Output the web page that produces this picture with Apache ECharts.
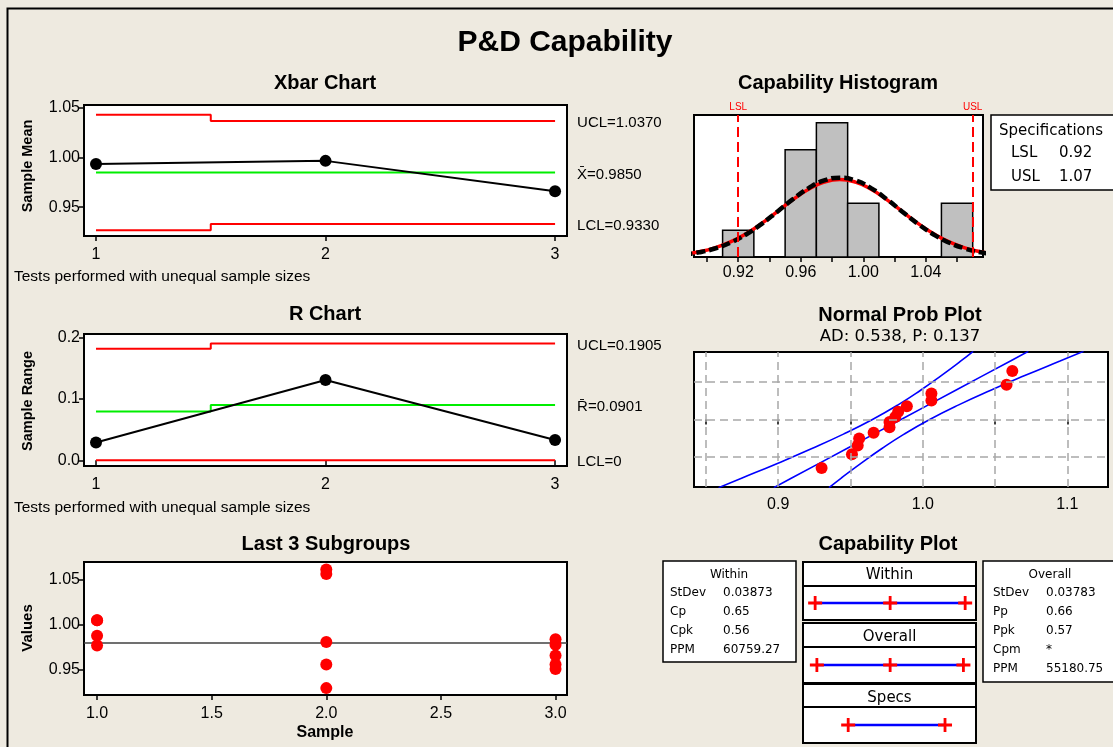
<!DOCTYPE html>
<html><head><meta charset="utf-8">
<script src="https://cdn.jsdelivr.net/npm/echarts@6/dist/echarts.min.js"></script>
<style>html,body{margin:0;padding:0;background:#EEEAE0;} #c{width:1113px;height:747px;}</style>
</head><body><div id="c"></div>
<script>
// ---------- data ----------
const subgroups = [1, 2, 3];
const subgroupMeans = [0.9935, 0.9967, 0.9660];
const xbarUCL = [1.0431, 1.0370, 1.0370];
const xbarCenter = [0.9850, 0.9850, 0.9850];
const xbarLCL = [0.9269, 0.9330, 0.9330];
const xbarLimitLabels = ['UCL=1.0370', 'X\u0304=0.9850', 'LCL=0.9330'];
const subgroupRanges = [0.029, 0.131, 0.033];
const rUCL = [0.1819, 0.1905, 0.1905];
const rCenter = [0.0797, 0.0901, 0.0901];
const rLCL = [0, 0, 0];
const rLimitLabels = ['UCL=0.1905', 'R\u0304=0.0901', 'LCL=0'];
const sample1Values = [1.005, 1.005, 0.988, 0.977];
const sample2Values = [1.061, 1.056, 0.981, 0.956, 0.930];
const sample3Values = [0.984, 0.978, 0.966, 0.956, 0.951];
const xbarTicks = [1, 2, 3];
const xbarYTicks = [0.95, 1.00, 1.05];
const rYTicks = [0.0, 0.1, 0.2];
const subXTicks = [1.0, 1.5, 2.0, 2.5, 3.0];
const subYTicks = [0.95, 1.00, 1.05];

const histBinStart = [0.91, 0.95, 0.97, 0.99, 1.05];
const histBinEnd = [0.93, 0.97, 0.99, 1.01, 1.07];
const histCounts = [1, 4, 5, 2, 2];
const histTicks = [0.90, 0.92, 0.94, 0.96, 0.98, 1.00, 1.02, 1.04, 1.06];
const histLabels = [0.92, 0.96, 1.00, 1.04];
const curveX = [0.885,0.895,0.905,0.915,0.925,0.935,0.945,0.955,0.965,0.975,0.985,0.995,1.005,1.015,1.025,1.035,1.045,1.055,1.065,1.075,1.085];
const withinCurve = [0.103,0.194,0.341,0.563,0.869,1.253,1.692,2.137,2.524,2.789,2.884,2.789,2.524,2.137,1.692,1.253,0.869,0.563,0.341,0.194,0.103];
const overallCurve = [0.090,0.174,0.316,0.533,0.840,1.233,1.689,2.156,2.568,2.852,2.953,2.852,2.568,2.156,1.689,1.233,0.840,0.533,0.316,0.174,0.090];
const specLimits = [0.92, 1.07];
const specNames = ['LSL', 'USL'];

const probValues = [0.930,0.951,0.955,0.956,0.966,0.977,0.977,0.981,0.983,0.989,1.006,1.006,1.058,1.062];
const probScores = [-1.658,-1.184,-0.887,-0.653,-0.450,-0.264,-0.087,0.087,0.264,0.450,0.653,0.887,1.184,1.658];
const bandScores = [-2.33,-2.0,-1.5,-1.0,-0.5,0,0.5,1.0,1.5,2.0,2.33];
const bandFit   = [0.8969,0.9093,0.9283,0.9472,0.9661,0.9850,1.0039,1.0228,1.0417,1.0607,1.0731];
const bandUpper = [0.8587,0.8750,0.8994,0.9229,0.9451,0.9652,0.9829,0.9985,1.0128,1.0264,1.0349];
const bandLower = [0.9351,0.9436,0.9572,0.9715,0.9871,1.0048,1.0249,1.0471,1.0706,1.0950,1.1113];
const probXTicks = [0.85, 0.90, 0.95, 1.00, 1.05, 1.10];
const probXLabels = [0.9, 1.0, 1.1];
const probGridScores = [-1.2816, 0, 1.2816];

const withinInterval = [0.8688, 0.985, 1.1012];
const overallInterval = [0.8715, 0.985, 1.0985];
const specInterval = [0.92, 1.07];
const withinStats = [['StDev','0.03873'],['Cp','0.65'],['Cpk','0.56'],['PPM','60759.27']];
const overallStats = [['StDev','0.03783'],['Pp','0.66'],['Ppk','0.57'],['Cpm','*'],['PPM','55180.75']];
const specStats = [['LSL','0.92'],['USL','1.07']];

// ---------- helpers ----------
const LF = '"Liberation Sans", Arial, sans-serif';
const DF = '"DejaVu Sans", Verdana, sans-serif';
const pairs = (xs, ys) => xs.map((x, i) => [x, ys[i]]);
const gridBase = {show: true, backgroundColor: '#fff', borderColor: '#000', borderWidth: 2, containLabel: false};
function valAxis(gi, min, max, ticks, labels, fmt, margin) {
  return {
    type: 'value', gridIndex: gi, min, max, scale: true,
    axisLine: {show: false},
    axisTick: {show: !!ticks, length: 5, customValues: ticks || [], lineStyle: {color: '#000', width: 1.5}},
    axisLabel: {show: !!labels, customValues: labels || [], formatter: fmt, color: '#000',
      fontFamily: LF, fontSize: 16, margin: margin || 6},
    splitLine: {show: false}
  };
}
function hiddenAxis(gi, min, max) {
  return {type: 'value', gridIndex: gi, min, max, show: false, splitLine: {show: false}};
}
function limitSeries(xi, data, color, label) {
  return {
    type: 'line', xAxisIndex: xi, yAxisIndex: xi, data, step: 'middle', symbol: 'none',
    lineStyle: {color, width: 2}, z: 3, silent: true,
    endLabel: {show: true, formatter: label, color: '#000', fontFamily: LF, fontSize: 15, distance: 22, offset: [0, 2]}
  };
}
const plusSym = 'path://M4,0H6V4H10V6H6V10H4V6H0V4H4Z';
function capRow(xi, vals) {
  return {
    type: 'line', xAxisIndex: xi, yAxisIndex: xi, data: vals.map(v => [v, 0]),
    symbol: plusSym, symbolSize: 14, showAllSymbol: true,
    lineStyle: {color: '#0000FF', width: 2.5}, itemStyle: {color: '#FF0000'}, z: 3
  };
}
function txt(text, x, y, font, align, extra) {
  return Object.assign({type: 'text', x, y, silent: true,
    style: {text, fill: '#000', font, textAlign: align || 'center', textVerticalAlign: 'middle',
      align: align || 'center', verticalAlign: 'middle'}}, extra || {});
}
function rect(x, y, w, h, lw) {
  return {type: 'rect', silent: true, shape: {x, y, width: w, height: h},
    style: {fill: '#fff', stroke: '#000', lineWidth: lw || 2}};
}

// ---------- layout ----------
const grids = [
  Object.assign({left: 84, top: 105, width: 483, height: 131}, gridBase),   // 0 xbar
  Object.assign({left: 84, top: 334, width: 483, height: 132}, gridBase),   // 1 R
  Object.assign({left: 84, top: 562, width: 483, height: 133}, gridBase),   // 2 last subgroups
  Object.assign({left: 694, top: 115, width: 289, height: 142}, gridBase),  // 3 histogram
  Object.assign({left: 694, top: 352, width: 414, height: 135}, gridBase),  // 4 prob plot
  Object.assign({left: 803, top: 586, width: 173, height: 34}, gridBase),   // 5 within row
  Object.assign({left: 803, top: 647, width: 173, height: 36}, gridBase),   // 6 overall row
  Object.assign({left: 803, top: 707, width: 173, height: 36}, gridBase)    // 7 specs row
];

const f2 = v => v.toFixed(2), f1 = v => v.toFixed(1), f0 = v => String(Math.round(v));
const xAxes = [
  valAxis(0, 0.9477, 3.052, xbarTicks, xbarTicks, f0, 11),
  valAxis(1, 0.9477, 3.052, xbarTicks, xbarTicks, f0, 11),
  valAxis(2, 0.943, 3.050, subXTicks, subXTicks, f1, 11),
  valAxis(3, 0.8917, 1.0766, histTicks, histLabels, f2, 8),
  valAxis(4, 0.8417, 1.1282, probXTicks, probXLabels, f1, 10),
  hiddenAxis(5, 0.85, 1.118), hiddenAxis(6, 0.85, 1.118), hiddenAxis(7, 0.85, 1.118)
];
const yAxes = [
  valAxis(0, 0.921, 1.053, xbarYTicks, xbarYTicks, f2, 4),
  valAxis(1, -0.0093, 0.206, rYTicks, rYTicks, f1, 4),
  valAxis(2, 0.9224, 1.0694, subYTicks, subYTicks, f2, 4),
  hiddenAxis(3, 0, 5.29),
  hiddenAxis(4, -2.307, 2.307),
  hiddenAxis(5, -1, 1), hiddenAxis(6, -1, 1), hiddenAxis(7, -1, 1)
];

const series = [
  // Xbar
  limitSeries(0, pairs(subgroups, xbarUCL), '#FF0000', xbarLimitLabels[0]),
  limitSeries(0, pairs(subgroups, xbarCenter), '#00EE00', xbarLimitLabels[1]),
  limitSeries(0, pairs(subgroups, xbarLCL), '#FF0000', xbarLimitLabels[2]),
  {type: 'line', xAxisIndex: 0, yAxisIndex: 0, data: pairs(subgroups, subgroupMeans),
   symbol: 'circle', symbolSize: 12, lineStyle: {color: '#000', width: 2}, itemStyle: {color: '#000'}, z: 4},
  // R
  limitSeries(1, pairs(subgroups, rUCL), '#FF0000', rLimitLabels[0]),
  limitSeries(1, pairs(subgroups, rCenter), '#00EE00', rLimitLabels[1]),
  limitSeries(1, pairs(subgroups, rLCL), '#FF0000', rLimitLabels[2]),
  {type: 'line', xAxisIndex: 1, yAxisIndex: 1, data: pairs(subgroups, subgroupRanges),
   symbol: 'circle', symbolSize: 12, lineStyle: {color: '#000', width: 2}, itemStyle: {color: '#000'}, z: 4},
  // Last subgroups
  {type: 'scatter', xAxisIndex: 2, yAxisIndex: 2, symbolSize: 12, itemStyle: {color: '#FF0000', opacity: 1}, z: 4,
   data: [].concat(sample1Values.map(v => [subgroups[0], v]), sample2Values.map(v => [subgroups[1], v]), sample3Values.map(v => [subgroups[2], v])),
   markLine: {silent: true, symbol: 'none', label: {show: false}, lineStyle: {color: '#404040', width: 1.5, type: 'solid'},
     data: [{yAxis: xbarCenter[0]}], z: 2}},
  // Histogram bars
  {type: 'custom', xAxisIndex: 3, yAxisIndex: 3, z: 2,
   data: histCounts.map((c, i) => [histBinStart[i], histBinEnd[i], c]),
   renderItem: function (params, api) {
     const p0 = api.coord([api.value(0), 0]);
     const p1 = api.coord([api.value(1), api.value(2)]);
     return {type: 'rect', shape: {x: p0[0], y: p1[1], width: p1[0] - p0[0], height: p0[1] - p1[1]},
       style: {fill: '#C0C0C0', stroke: '#000', lineWidth: 1.5}};
   }},
  {type: 'line', xAxisIndex: 3, yAxisIndex: 3, data: pairs(curveX, withinCurve), smooth: true, symbol: 'none',
   lineStyle: {color: '#FF0000', width: 3.5}, z: 3,
   markLine: {silent: true, symbol: 'none', lineStyle: {color: '#FF0000', width: 2, type: [10, 5]},
     label: {show: true, position: 'end', color: '#FF0000', fontFamily: LF, fontSize: 10, distance: 3,
       formatter: p => specNames[p.dataIndex]},
     data: specLimits.map(v => ({xAxis: v}))}},
  {type: 'line', xAxisIndex: 3, yAxisIndex: 3, data: pairs(curveX, overallCurve), smooth: true, symbol: 'none',
   lineStyle: {color: '#000', width: 4.5, type: [9, 4]}, z: 4},
  // Prob plot grid
  {type: 'line', xAxisIndex: 4, yAxisIndex: 4, data: [], z: 1,
   markLine: {silent: true, symbol: 'none', label: {show: false}, lineStyle: {color: '#A8A8A8', width: 1.5, type: [8, 5]},
     data: probXTicks.map(v => ({xAxis: v})).concat(probGridScores.map(v => ({yAxis: v})))}},
  {type: 'line', xAxisIndex: 4, yAxisIndex: 4, data: pairs(bandUpper, bandScores), smooth: true, symbol: 'none',
   lineStyle: {color: '#0000FF', width: 1.6}, z: 3},
  {type: 'line', xAxisIndex: 4, yAxisIndex: 4, data: pairs(bandFit, bandScores), symbol: 'none',
   lineStyle: {color: '#0000FF', width: 1.6}, z: 3},
  {type: 'line', xAxisIndex: 4, yAxisIndex: 4, data: pairs(bandLower, bandScores), smooth: true, symbol: 'none',
   lineStyle: {color: '#0000FF', width: 1.6}, z: 3},
  {type: 'scatter', xAxisIndex: 4, yAxisIndex: 4, data: pairs(probValues, probScores), symbolSize: 12,
   itemStyle: {color: '#FF0000', opacity: 1}, z: 4},
  // Capability plot rows
  capRow(5, withinInterval), capRow(6, overallInterval), capRow(7, specInterval)
];

// ---------- text & boxes ----------
const TB = 'bold 20px ' + LF;
const graphics = [
  {type: 'polyline', silent: true, shape: {points: [[7.5, 747], [7.5, 8.5], [1113, 8.5]]}, style: {stroke: '#000', lineWidth: 2, fill: null}},
  txt('P&D Capability', 565, 43, 'bold 30px ' + LF),
  txt('Xbar Chart', 325, 83, TB),
  txt('R Chart', 325, 314, TB),
  txt('Last 3 Subgroups', 326, 544, TB),
  txt('Capability Histogram', 838, 83, TB),
  txt('Normal Prob Plot', 900, 315, TB),
  txt('AD: 0.538, P: 0.137', 900, 337, '16.5px ' + DF),
  txt('Capability Plot', 888, 544, TB),
  txt('Sample Mean', 28, 166, 'bold 14.5px ' + LF, 'center', {rotation: Math.PI / 2}),
  txt('Sample Range', 28, 401, 'bold 14.5px ' + LF, 'center', {rotation: Math.PI / 2}),
  txt('Values', 28, 628, 'bold 15px ' + LF, 'center', {rotation: Math.PI / 2}),
  txt('Sample', 325, 733, 'bold 16px ' + LF),
  txt('Tests performed with unequal sample sizes', 14, 277, '15.5px ' + LF, 'left'),
  txt('Tests performed with unequal sample sizes', 14, 508, '15.5px ' + LF, 'left'),
  // specifications box
  rect(991, 115, 140, 75, 1.5),
  txt('Specifications', 999, 131, '15px ' + DF, 'left'),
  // capability plot boxes
  rect(663, 561, 133, 101, 1.5),
  txt('Within', 729, 575, '12px ' + DF),
  rect(983, 561, 140, 121, 1.5),
  txt('Overall', 1050, 575, '12px ' + DF),
  rect(803, 562, 173, 24, 2), txt('Within', 889.5, 575, '15px ' + DF),
  rect(803, 623, 173, 24, 2), txt('Overall', 889.5, 637, '15px ' + DF),
  rect(803, 684, 173, 23, 2), txt('Specs', 889.5, 698, '15px ' + DF)
];
specStats.forEach((r, i) => {
  graphics.push(txt(r[0], 1011, 153 + i * 24, '15px ' + DF, 'left'));
  graphics.push(txt(r[1], 1059, 153 + i * 24, '15px ' + DF, 'left'));
});
withinStats.forEach((r, i) => {
  graphics.push(txt(r[0], 670, 593 + i * 19, '12px ' + DF, 'left'));
  graphics.push(txt(r[1], 723, 593 + i * 19, '12px ' + DF, 'left'));
});
overallStats.forEach((r, i) => {
  graphics.push(txt(r[0], 993, 593 + i * 19, '12px ' + DF, 'left'));
  graphics.push(txt(r[1], 1046, 593 + i * 19, '12px ' + DF, 'left'));
});

const chart = echarts.init(document.getElementById('c'), null, {renderer: 'canvas'});
chart.setOption({
  backgroundColor: '#EEEAE0',
  animation: false,
  grid: grids,
  xAxis: xAxes,
  yAxis: yAxes,
  series: series,
  graphic: {elements: graphics}
});
</script>
</body></html>
